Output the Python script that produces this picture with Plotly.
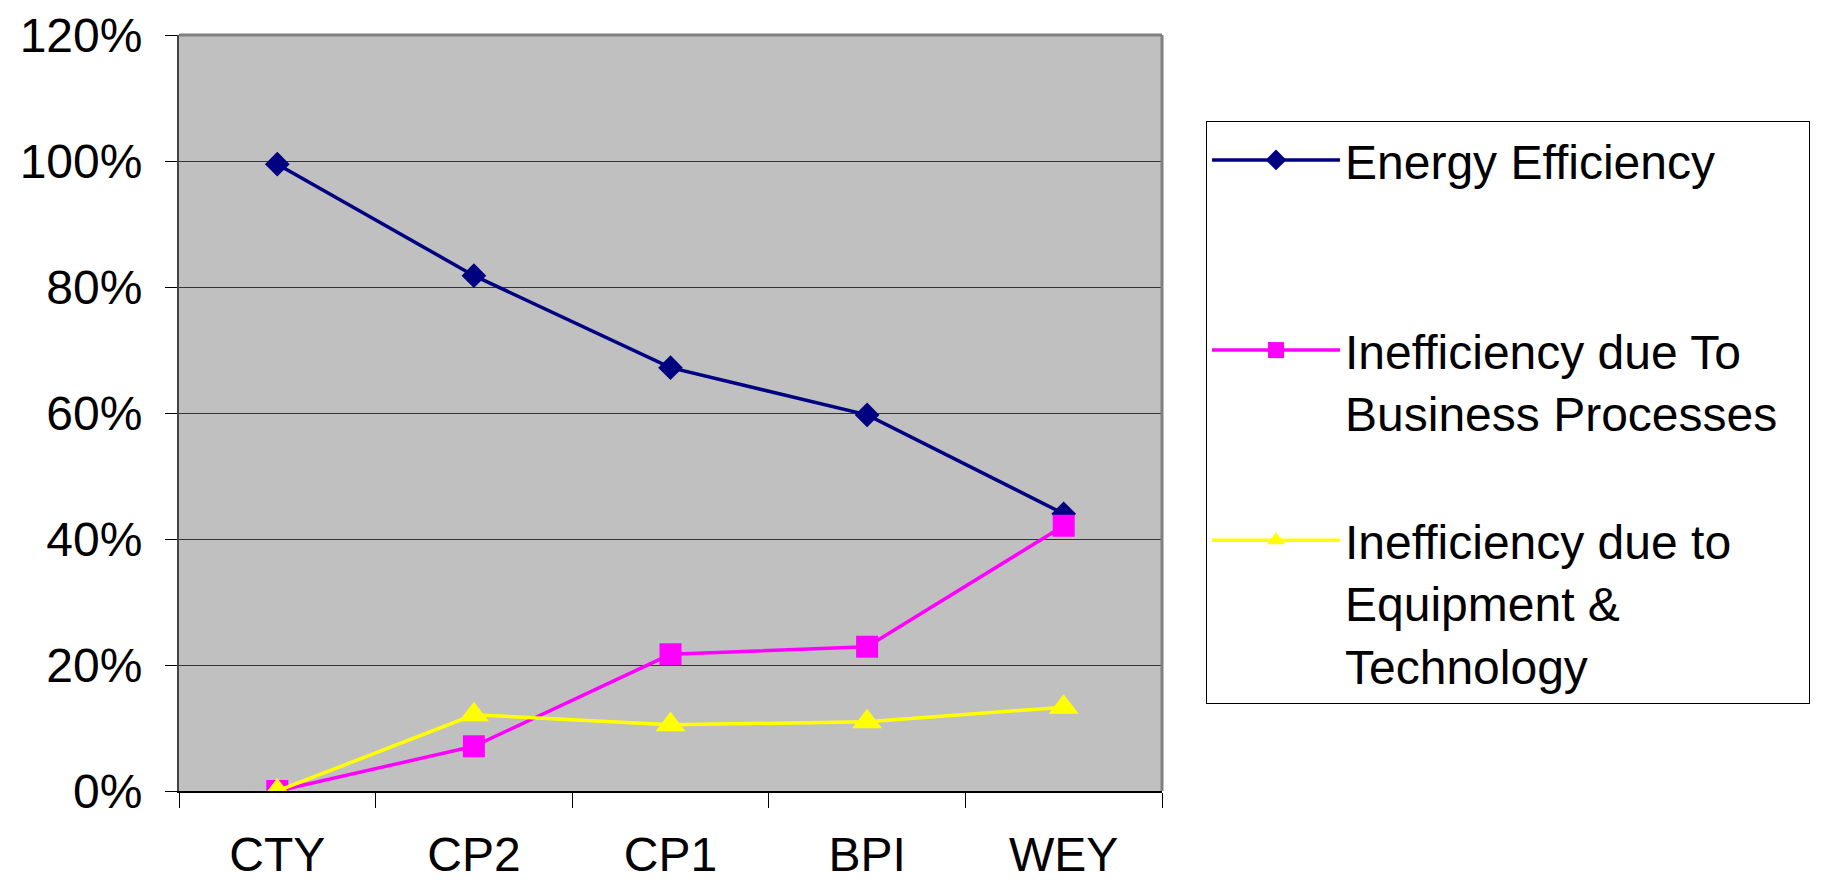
import plotly.graph_objects as go

categories = ["CTY", "CP2", "CP1", "BPI", "WEY"]
energy_eff = [0.995, 0.818, 0.672, 0.597, 0.440]
ineff_business = [0.0, 0.071, 0.217, 0.229, 0.421]
ineff_equipment = [0.0, 0.121, 0.105, 0.110, 0.133]
y_ticks = [0, 0.2, 0.4, 0.6, 0.8, 1.0, 1.2]
y_tick_labels = ["0%", "20%", "40%", "60%", "80%", "100%", "120%"]

FONT = "Liberation Sans, Arial, sans-serif"
PAD = "\u00a0\u00a0"

fig = go.Figure()
fig.add_trace(go.Scatter(
    x=categories, y=energy_eff, mode="lines+markers",
    name="Energy Efficiency<br> <br> ",
    line=dict(color="#000080", width=3.5),
    marker=dict(symbol="diamond", size=19, color="#000080"),
    legendgroup="a",
))
fig.add_trace(go.Scatter(
    x=categories, y=ineff_business, mode="lines+markers",
    name="Inefficiency due To<br>Business Processes" + PAD + "<br> ",
    line=dict(color="#FF00FF", width=3.5),
    marker=dict(symbol="square", size=22, color="#FF00FF"),
    legendgroup="b",
))
fig.add_trace(go.Scatter(
    x=categories, y=ineff_equipment, mode="lines+markers",
    name="Inefficiency due to<br>Equipment &<br>Technology",
    line=dict(color="#FFFF00", width=3.5),
    marker=dict(symbol="triangle-up", size=26, color="#FFFF00"),
    legendgroup="c",
))

# The page body adds an 8px margin, so the figure is sized/offset to compensate.
fig.update_layout(
    width=1824, height=872,
    margin=dict(l=171, r=670, t=27, b=89),
    paper_bgcolor="white",
    plot_bgcolor="#C0C0C0",
    font=dict(family=FONT, size=48, color="black"),
    showlegend=True,
    legend=dict(
        x=1.0448, xanchor="left", y=0.886, yanchor="top",
        bgcolor="white", bordercolor="black", borderwidth=1,
        font=dict(family=FONT, size=48, color="black"),
        valign="top", itemwidth=128, tracegroupgap=4,
        traceorder="normal",
    ),
    xaxis=dict(
        type="category",
        range=[-0.5, 4.5],
        automargin=False,
        showgrid=False,
        ticks="outside", tickson="boundaries", ticklen=15, tickcolor="black", tickwidth=1,
        showline=True, linecolor="black", linewidth=2,
        ticklabelstandoff=20,
        tickfont=dict(family=FONT, size=48, color="black"),
    ),
    yaxis=dict(
        range=[0, 1.2],
        automargin=False,
        tickvals=y_ticks, ticktext=y_tick_labels,
        showgrid=True, gridcolor="#333333", gridwidth=1,
        ticks="outside", ticklen=12, tickcolor="black", tickwidth=1,
        showline=True, linecolor="#444444", linewidth=2,
        ticklabelstandoff=13,
        zeroline=False,
        tickfont=dict(family=FONT, size=48, color="black"),
    ),
)

# plot-area border (top and right)
fig.add_shape(type="line", xref="paper", yref="paper", x0=0, x1=1, y0=1, y1=1,
              line=dict(color="#808080", width=3))
fig.add_shape(type="line", xref="paper", yref="paper", x0=1, x1=1, y0=0, y1=1,
              line=dict(color="#808080", width=3))

fig.write_html("out.html")
